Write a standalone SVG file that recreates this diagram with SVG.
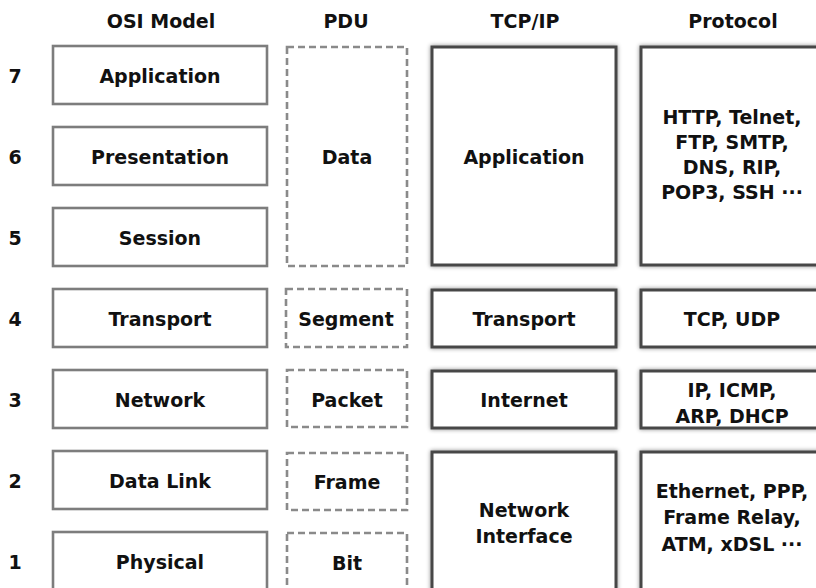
<svg xmlns="http://www.w3.org/2000/svg" width="816" height="588" viewBox="0 0 816 588">
  <defs>
    <filter id="glow" x="-10%" y="-10%" width="120%" height="120%">
      <feGaussianBlur in="SourceAlpha" stdDeviation="2.2" result="b"/>
      <feFlood flood-color="#000" flood-opacity="0.45"/>
      <feComposite in2="b" operator="in" result="s"/>
      <feMerge><feMergeNode in="s"/><feMergeNode in="SourceGraphic"/></feMerge>
    </filter>
  </defs>
  <style>
    text { font-family: "DejaVu Sans", "Noto Sans", sans-serif; font-weight: bold; font-size: 19px; fill: #111; text-anchor: middle; }
    .osi { fill: #fff; stroke: #7d7d7d; stroke-width: 2.6; }
    .pdu { fill: #fff; stroke: #8a8a8a; stroke-width: 2.6; stroke-dasharray: 7 4; }
    .tcp { fill: #fff; stroke: #464646; stroke-width: 3; filter: url(#glow); }
  </style>
  <rect width="816" height="588" fill="#fff"/>

  <!-- column headings -->
  <g id="headings">
    <text x="161" y="28">OSI Model</text>
    <text x="346" y="28">PDU</text>
    <text x="525" y="28">TCP/IP</text>
    <text x="733" y="28">Protocol</text>
  </g>

  <!-- layer numbers -->
  <g id="layer-numbers">
    <text x="15" y="83">7</text>
    <text x="15" y="164">6</text>
    <text x="15" y="245">5</text>
    <text x="15" y="326">4</text>
    <text x="15" y="407">3</text>
    <text x="15" y="488">2</text>
    <text x="15" y="569">1</text>
  </g>

  <!-- OSI layers -->
  <g id="osi-application"><rect class="osi" x="53" y="46" width="214" height="58"/><text x="160" y="83">Application</text></g>
  <g id="osi-presentation"><rect class="osi" x="53" y="127" width="214" height="58"/><text x="160" y="164">Presentation</text></g>
  <g id="osi-session"><rect class="osi" x="53" y="208" width="214" height="58"/><text x="160" y="245">Session</text></g>
  <g id="osi-transport"><rect class="osi" x="53" y="289" width="214" height="58"/><text x="160" y="326">Transport</text></g>
  <g id="osi-network"><rect class="osi" x="53" y="370" width="214" height="58"/><text x="160" y="407">Network</text></g>
  <g id="osi-datalink"><rect class="osi" x="53" y="451" width="214" height="58"/><text x="160" y="488">Data Link</text></g>
  <g id="osi-physical"><rect class="osi" x="53" y="532" width="214" height="58"/><text x="160" y="569">Physical</text></g>

  <!-- protocol data units -->
  <g id="pdu-data"><rect class="pdu" x="287" y="47" width="120" height="219"/><text x="347" y="164">Data</text></g>
  <g id="pdu-segment"><rect class="pdu" x="286" y="289" width="121" height="58"/><text x="346" y="326">Segment</text></g>
  <g id="pdu-packet"><rect class="pdu" x="287" y="370" width="120" height="57"/><text x="347" y="407">Packet</text></g>
  <g id="pdu-frame"><rect class="pdu" x="287" y="453" width="120" height="57"/><text x="347" y="489">Frame</text></g>
  <g id="pdu-bit"><rect class="pdu" x="287" y="533" width="120" height="60"/><text x="347" y="570">Bit</text></g>

  <!-- TCP/IP layers -->
  <g id="tcp-application"><rect class="tcp" x="432" y="47" width="184" height="218"/><text x="524" y="164">Application</text></g>
  <g id="tcp-transport"><rect class="tcp" x="432" y="290" width="184" height="57"/><text x="524" y="326">Transport</text></g>
  <g id="tcp-internet"><rect class="tcp" x="432" y="371" width="184" height="57"/><text x="524" y="407">Internet</text></g>
  <g id="tcp-netif"><rect class="tcp" x="432" y="452" width="184" height="142"/><text x="524" y="517">Network</text><text x="524" y="543">Interface</text></g>

  <!-- protocols -->
  <g id="proto-application"><rect class="tcp" x="641" y="47" width="184" height="218"/>
    <text x="732" y="124">HTTP, Telnet,</text>
    <text x="732" y="149">FTP, SMTP,</text>
    <text x="732" y="174">DNS, RIP,</text>
    <text x="732" y="199">POP3, SSH ···</text>
  </g>
  <g id="proto-transport"><rect class="tcp" x="641" y="290" width="184" height="57"/><text x="732" y="326">TCP, UDP</text></g>
  <g id="proto-internet"><rect class="tcp" x="641" y="371" width="184" height="57"/><text x="732" y="397">IP, ICMP,</text><text x="732" y="423">ARP, DHCP</text></g>
  <g id="proto-netif"><rect class="tcp" x="641" y="452" width="184" height="142"/>
    <text x="732" y="498">Ethernet, PPP,</text>
    <text x="732" y="524">Frame Relay,</text>
    <text x="732" y="551">ATM, xDSL ···</text>
  </g>

  <!-- no connectors between layers -->
  <g id="connectors"/>
</svg>
